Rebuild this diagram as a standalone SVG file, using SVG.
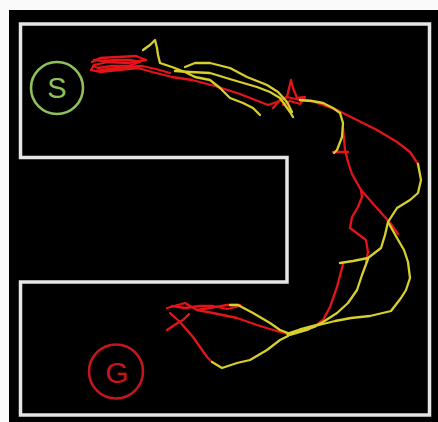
<svg xmlns="http://www.w3.org/2000/svg" width="438" height="422" viewBox="0 0 438 422">
  <style>
    .wall { fill: none; stroke: #e6e6e6; stroke-width: 3.5; stroke-linejoin: miter; }
    .red { fill: none; stroke: #e3141a; stroke-width: 2.3; stroke-linejoin: round; stroke-linecap: round; }
    .yel { fill: none; stroke: #d6cf2c; stroke-width: 2.3; stroke-linejoin: round; stroke-linecap: round; }
    .mark { fill: none; stroke-width: 2.6; }
    .label { font-family: "Liberation Sans", Arial, sans-serif; text-anchor: middle; }
  </style>

  <!-- page and arena background -->
  <rect x="0" y="0" width="438" height="422" fill="#fafafa"/>
  <rect x="9" y="10" width="429" height="412" fill="#000"/>

  <!-- C-shaped corridor walls -->
  <g id="maze">
    <polygon class="wall" points="20.5,24 429.5,24 429.5,415 20.5,415 20.5,282 287,282 287,157.5 20.5,157.5"/>
  </g>

  <!-- recorded paths -->
  <g id="trajectories">
    <!-- red runs -->
    <polyline class="red" points="92,62 100,58 118,57 136,56 146,60 128,63 108,62 94,65 91,70 100,72 118,70 138,68 152,72 172,77 192,80 215,86 240,94 258,101 268,105 277,102 287,97"/>
    <polyline class="red" points="94,60 104,61 116,60 130,60 140,62 128,66 112,66 98,68 93,66"/>
    <polyline class="red" points="96,71 110,69 126,67 142,66 156,69 170,73"/>
    <polyline class="red" points="273,108 280,100 287,97 291,80 293,88 297,98 305,97 300,104 290,101 283,105"/>
    <polyline class="red" points="287,97 300,100 312,101 323,105 337,110 357,120 377,130 397,142 410,152 418,164"/>
    <polyline class="red" points="343,128 345,150 348,162 352,174 357,183 361,190 376,207 391,224 398,234"/>
    <polyline class="red" points="333,152 348,152"/>
    <polyline class="red" points="361,190 362,197 358,207 352,217 350,228 358,234 366,240 368,252 366,262"/>
    <polyline class="red" points="343,264 337,287 330,307 323,320 315,326"/>
    <polyline class="red" points="288,334 273,330 257,325 237,318 213,313 197,310"/>
    <polyline class="red" points="167,308 185,303 197,310 210,308 227,305 240,305"/>
    <polyline class="red" points="240,306 227,309 213,306 200,306 185,308 172,306"/>
    <polyline class="red" points="167,330 176,324 183,320 189,314"/>
    <polyline class="red" points="170,313 180,322 193,337 207,357 212,362"/>

    <!-- yellow runs -->
    <polyline class="yel" points="143,50 150,45 155,40 157,48 158,55 160,63 172,67 185,72 195,77 210,80 220,88 230,98 243,103 253,108 260,115"/>
    <polyline class="yel" points="185,67 195,63 210,63 230,68 247,77 267,85 278,92 287,102 292,112"/>
    <polyline class="yel" points="175,71 190,72 210,73 233,80 257,87 270,92 280,98 290,112 293,117"/>
    <polyline class="yel" points="300,100 312,101 323,103 333,108 340,113 343,123 342,137 337,150 334,153"/>
    <polyline class="yel" points="418,164 421,180 418,193 410,200 397,208 388,222 397,238 404,250 408,262 410,278 406,290 401,298 391,311 370,316 351,318 335,321 315,326"/>
    <polyline class="yel" points="388,222 385,235 381,248 368,258 353,261 340,263"/>
    <polyline class="yel" points="368,259 362,275 357,290 348,303 337,313 323,322 307,330 290,335"/>
    <polyline class="yel" points="315,326 300,330 288,334" style="stroke-width:3.4"/>
    <polyline class="yel" points="288,333 280,330 270,323 253,313 238,305 230,305"/>
    <polyline class="yel" points="288,336 280,340 267,350 250,360 237,363 222,368 212,362"/>
  </g>

  <!-- start marker -->
  <g id="start">
    <circle class="mark" cx="57" cy="88" r="26" stroke="#8fc05c"/>
    <text class="label" x="57" y="97.5" font-size="29" fill="#8fc05c">S</text>
  </g>

  <!-- goal marker -->
  <g id="goal">
    <circle class="mark" cx="116" cy="371.5" r="27" stroke="#c4161e"/>
    <text class="label" x="117" y="382.5" font-size="30" fill="#c4161e">G</text>
  </g>
</svg>
